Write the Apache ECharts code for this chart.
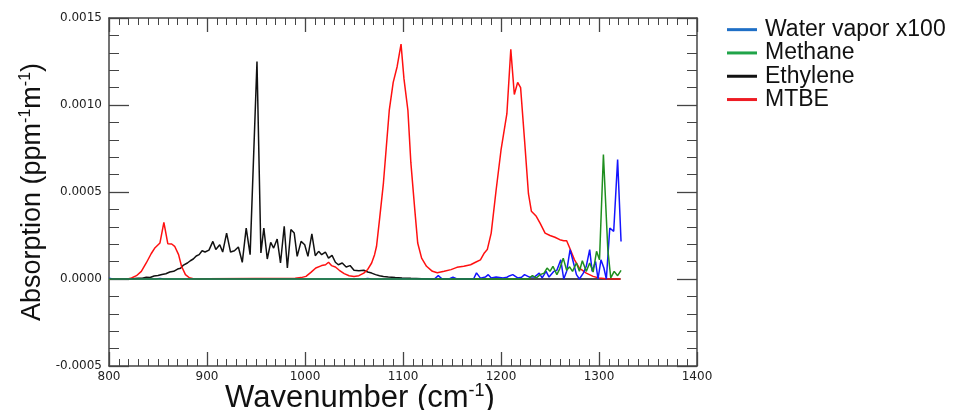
<!DOCTYPE html>
<html>
<head>
<meta charset="utf-8">
<script src="https://cdn.jsdelivr.net/npm/echarts@6/dist/echarts.min.js"></script>
<style>
  html, body { margin: 0; padding: 0; background: #ffffff; }
  #chart { width: 956px; height: 410px; }
</style>
</head>
<body>
<div id="chart"></div>
<script>
// Absorption values are stored in units of 1e-4 ppm^-1 m^-1.
const UNIT = 1e-4;

const seriesNames = ['Water vapor x100', 'Methane', 'Ethylene', 'MTBE'];

const ethyleneWn = [800, 812, 820, 826, 830, 834, 838, 842, 846, 850, 854, 858, 862, 866, 870, 873, 876, 880, 883, 886, 889, 892, 895, 898, 902, 906, 909, 913, 916, 920, 924, 928, 932, 936, 940, 944, 951, 955, 958, 961.5, 965, 968, 971.6, 975, 978.8, 982, 985.6, 989, 992, 996, 999.7, 1003, 1007, 1010.5, 1013.9, 1017, 1020.8, 1024, 1027.6, 1031, 1034, 1038, 1042, 1046, 1050, 1055, 1060, 1064, 1068, 1072, 1076, 1080, 1085, 1092, 1099, 1108, 1119, 1130, 1322];
const ethyleneAbs = [0, 0, 0.01, 0.03, 0.05, 0.04, 0.10, 0.09, 0.17, 0.20, 0.26, 0.30, 0.40, 0.44, 0.57, 0.62, 0.80, 0.92, 1.05, 1.15, 1.32, 1.40, 1.62, 1.55, 1.66, 2.16, 1.70, 1.97, 1.55, 2.64, 1.55, 1.62, 1.84, 0.96, 2.93, 1.40, 12.5, 1.50, 2.93, 1.15, 2.10, 1.78, 2.30, 0.92, 3.03, 0.63, 2.84, 2.64, 1.30, 2.16, 1.97, 1.30, 2.59, 1.34, 1.59, 1.40, 1.55, 1.20, 1.36, 0.96, 0.82, 0.92, 0.69, 0.77, 0.50, 0.48, 0.50, 0.40, 0.34, 0.25, 0.19, 0.14, 0.11, 0.08, 0.06, 0.04, 0.02, 0, 0];

const mtbeWn = [800, 816, 820, 823, 828, 833, 838, 843, 847, 852, 856, 860, 864, 867, 871, 874, 878, 882, 886, 892, 900, 950, 980, 990, 996, 1001, 1006, 1011, 1017, 1021, 1024, 1027, 1031, 1035, 1040, 1045, 1050, 1055, 1060, 1064, 1068, 1071, 1073, 1076, 1080, 1083, 1086, 1090, 1094, 1098, 1101, 1105, 1108, 1112, 1115, 1119, 1124, 1130, 1135, 1142, 1149, 1155, 1162, 1169, 1174, 1179, 1183, 1186, 1190, 1195, 1200, 1206, 1210, 1213.6, 1217, 1220, 1224, 1228, 1231, 1236, 1240, 1245, 1250, 1255, 1260, 1264, 1267, 1270, 1275, 1280, 1287, 1294, 1300, 1307, 1322];
const mtbeAbs = [0, 0, 0.02, 0.06, 0.19, 0.44, 0.92, 1.45, 1.80, 2.07, 3.26, 2.03, 2.01, 1.88, 1.40, 0.73, 0.25, 0.07, 0.02, 0, 0.01, 0.03, 0.03, 0.05, 0.08, 0.15, 0.38, 0.63, 0.77, 0.82, 0.96, 0.77, 0.69, 0.50, 0.31, 0.19, 0.15, 0.19, 0.34, 0.55, 0.92, 1.40, 1.88, 3.4, 5.5, 7.6, 9.7, 11.3, 12.2, 13.5, 11.5, 9.7, 6.7, 4.0, 2.07, 1.20, 0.73, 0.44, 0.36, 0.44, 0.54, 0.67, 0.73, 0.82, 0.96, 1.10, 1.50, 1.69, 2.64, 5.1, 7.4, 9.5, 13.2, 10.6, 11.3, 11.0, 8.0, 4.9, 3.9, 3.6, 3.2, 2.64, 2.5, 2.4, 2.26, 2.2, 2.2, 1.8, 1.1, 0.63, 0.34, 0.15, 0.06, 0.02, 0];

const waterWn = [800, 804, 848, 852, 856, 1060, 1064, 1068, 1095, 1100, 1104, 1132, 1136, 1140, 1147, 1151, 1155, 1172, 1175, 1179, 1184, 1187, 1190, 1195, 1202, 1206, 1209, 1212, 1217, 1221, 1224, 1229, 1234, 1239, 1242, 1246, 1249, 1254, 1257, 1261, 1264, 1267, 1270.5, 1274, 1277, 1280, 1284, 1287, 1290.5, 1293, 1296.5, 1299, 1302, 1305, 1307.5, 1311, 1315, 1319, 1322.5];
const waterAbs = [0.04, 0, 0, 0.03, 0, 0, 0.03, 0, 0, 0.02, 0, 0, 0.19, 0, 0, 0.10, 0, 0, 0.35, 0.05, 0.11, 0.25, 0.06, 0.11, 0.06, 0.10, 0.19, 0.25, 0.06, 0.10, 0.25, 0.11, 0.11, 0.34, 0.06, 0.44, 0.11, 0.44, 0.50, 1.10, 0, 0.45, 1.69, 0.92, 0.25, 0, 0.34, 0.73, 1.69, 0.44, 1.00, 0, 1.10, 0.63, 0, 2.93, 2.74, 6.86, 2.16];

const methaneWn = [800, 1228, 1232, 1236, 1240, 1244, 1247, 1250, 1253, 1257, 1260, 1263.5, 1267, 1270, 1273, 1277, 1280, 1283, 1287, 1290.5, 1294, 1297.5, 1300.5, 1304.5, 1309, 1312, 1315.5, 1319, 1322.5];
const methaneAbs = [0, 0, 0.20, 0.06, 0.25, 0.34, 0.63, 0.44, 0.73, 0.25, 0.60, 1.20, 0.50, 0.70, 0.44, 0.92, 0.44, 1.05, 0.44, 0.92, 0.40, 1.59, 1.10, 7.15, 1.69, 0.06, 0.44, 0.19, 0.50];

const xTicks = { min: 800, max: 1400, step: 100 };
const yTicks = { min: -0.0005, max: 0.0015, step: 0.0005 };

function pairs(wn, abs) {
  return wn.map((w, i) => [w, abs[i] * UNIT]);
}

const AXIS_COLOR = '#444';
const tickFont = { fontFamily: 'DejaVu Sans', fontSize: 12, color: '#222' };

function xAxisCfg(position, withLabels) {
  return {
    type: 'value',
    position: position,
    min: xTicks.min, max: xTicks.max, interval: xTicks.step,
    axisLine: { show: true, onZero: false, lineStyle: { color: AXIS_COLOR, width: 1.5 } },
    axisTick: { show: true, inside: true, length: 14, lineStyle: { color: AXIS_COLOR, width: 1.3 } },
    minorTick: { show: true, splitNumber: 10, length: 7, lineStyle: { color: AXIS_COLOR, width: 1 } },
    axisLabel: Object.assign({ show: withLabels, margin: 5, formatter: v => String(v) }, tickFont),
    splitLine: { show: false },
    minorSplitLine: { show: false }
  };
}

function yAxisCfg(position, withLabels) {
  return {
    type: 'value',
    position: position,
    min: yTicks.min, max: yTicks.max, interval: yTicks.step,
    axisLine: { show: true, onZero: false, lineStyle: { color: AXIS_COLOR, width: 1.5 } },
    axisTick: { show: true, inside: true, length: 20, lineStyle: { color: AXIS_COLOR, width: 1.3 } },
    minorTick: { show: true, splitNumber: 5, length: 10, lineStyle: { color: AXIS_COLOR, width: 1 } },
    axisLabel: Object.assign({ show: withLabels, margin: 7, formatter: v => v.toFixed(4) }, tickFont),
    splitLine: { show: false },
    minorSplitLine: { show: false }
  };
}

function titleRich(size, supSize) {
  return {
    a: { fontFamily: 'Liberation Sans', fontSize: size, lineHeight: size + 2, color: '#111' },
    s: { fontFamily: 'Liberation Sans', fontSize: supSize, lineHeight: supSize, color: '#111', verticalAlign: 'top' }
  };
}

const xAxes = [xAxisCfg('bottom', true), xAxisCfg('top', false)];
xAxes[0].name = '{a|Wavenumber (cm}{s|-1}{a|)}';
xAxes[0].nameLocation = 'middle';
xAxes[0].nameGap = 16;
xAxes[0].nameMoveOverlap = false;
xAxes[0].nameTextStyle = { rich: titleRich(31, 18), padding: [0, 86, 0, 0] };

const yAxes = [yAxisCfg('left', true), yAxisCfg('right', false)];
yAxes[0].name = '{a|Absorption (ppm}{s|-1}{a|m}{s|-1}{a|)}';
yAxes[0].nameLocation = 'middle';
yAxes[0].nameGap = 62;
yAxes[0].nameMoveOverlap = false;
yAxes[0].nameTextStyle = { rich: titleRich(27, 16) };

// plot colours and the colours of the legend swatches
const lineColors = { 'Water vapor x100': '#1414ff', 'Methane': '#1f8f1f', 'Ethylene': '#111111', 'MTBE': '#ff1010' };
const keyColors = { 'Water vapor x100': '#1f6fc6', 'Methane': '#20a449', 'Ethylene': '#111111', 'MTBE': '#ee1c24' };

function lineSeries(name, data) {
  return {
    name: name,
    type: 'line',
    data: data,
    xAxisIndex: 0,
    yAxisIndex: 0,
    showSymbol: false,
    symbol: 'none',
    lineStyle: { color: lineColors[name], width: 1.5 },
    itemStyle: { color: keyColors[name] },
    emphasis: { disabled: true },
    animation: false
  };
}

const chart = echarts.init(document.getElementById('chart'));
chart.setOption({
  animation: false,
  backgroundColor: '#ffffff',
  grid: { left: 109, right: 259, top: 18, bottom: 44, outerBoundsMode: 'none', containLabel: false },
  xAxis: xAxes,
  yAxis: yAxes,
  legend: {
    orient: 'vertical',
    left: 722,
    top: 13,
    icon: 'rect',
    itemWidth: 30,
    itemHeight: 3,
    itemGap: 0,
    selectedMode: false,
    textStyle: { fontFamily: 'Liberation Sans', fontSize: 23, lineHeight: 23.3, color: '#111', padding: [0, 0, 0, 3] },
    data: seriesNames.map(n => ({ name: n, itemStyle: { color: keyColors[n], borderWidth: 0 }, lineStyle: { color: keyColors[n] } }))
  },
  series: [
    lineSeries('Ethylene', pairs(ethyleneWn, ethyleneAbs)),
    lineSeries('MTBE', pairs(mtbeWn, mtbeAbs)),
    lineSeries('Water vapor x100', pairs(waterWn, waterAbs)),
    lineSeries('Methane', pairs(methaneWn, methaneAbs))
  ]
});
</script>
</body>
</html>
